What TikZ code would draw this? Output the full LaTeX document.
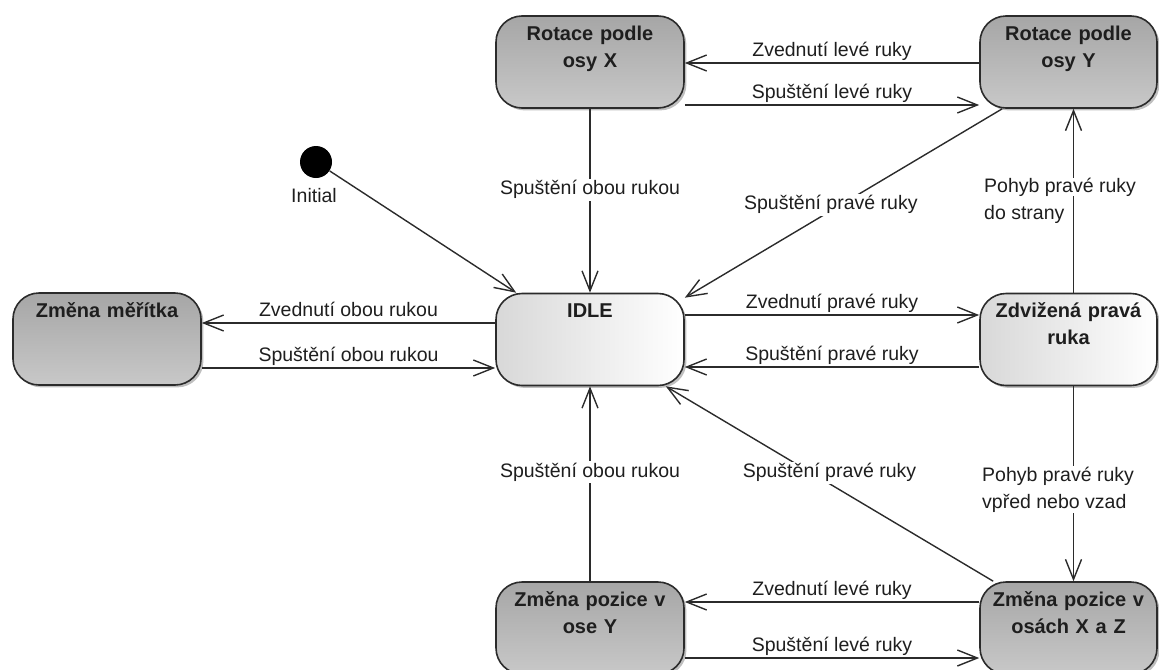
\documentclass[tikz,border=0pt]{standalone}
\usepackage{fontspec}
\setmainfont{Liberation Sans}
\usetikzlibrary{arrows.meta,shadows,positioning}
\definecolor{lc}{HTML}{2B2B2B}
\definecolor{dtop}{HTML}{A6A6A6}
\definecolor{dbot}{HTML}{C8C8C8}
\definecolor{lleft}{HTML}{D8D8D8}
\definecolor{tc}{HTML}{1E1E1E}
\newcommand{\wbox}[1]{{\setlength{\fboxsep}{0pt}\colorbox{white}{#1}}}
\tikzset{
  st/.style={draw=lc, line width=0.8pt, rounded corners=13pt, align=center,
    inner xsep=0pt, inner ysep=0pt, text height=12pt, text depth=34pt,
    font=\fontsize{10}{13.5}\selectfont\bfseries, text=tc,
    drop shadow={shadow xshift=1.2pt, shadow yshift=-1.2pt, opacity=0.25, fill=black}},
  wideS/.style={text width=94pt},
  narrowS/.style={text width=88.5pt},
  dark/.style={st, top color=dtop, bottom color=dbot},
  light/.style={st, left color=lleft, right color=white},
  arr/.style={draw=lc, line width=0.7pt, -{Straight Barb[length=10pt,width=8pt]}},
  lblbase/.style={font=\fontsize{9.75}{13.5}\selectfont, text=tc, inner sep=0.5pt},
  lbl/.style={lblbase, text height=7.4pt, text depth=2.4pt},
  lblw/.style={lbl, fill=white},
}
\begin{document}
\begin{tikzpicture}[x=0.5pt,y=-0.5pt]
\useasboundingbox (0,0) rectangle (1159,669);
% states
\node[dark, wideS]    (rx)    at (590,62)    {Rotace podle\\osy X};
\node[dark, narrowS]  (ry)    at (1068.5,62) {Rotace podle\\osy Y};
\node[dark, wideS]    (scale) at (107,339)   {Změna měřítka};
\node[light, wideS]   (idle)  at (590,339.5) {IDLE};
\node[light, narrowS] (zdv)   at (1068.5,339.5) {Zdvižená pravá\\ruka};
\node[dark, wideS]    (zpy)   at (590,628)   {Změna pozice v\\ose Y};
\node[dark, narrowS]  (zxz)   at (1068.5,628) {Změna pozice v\\osách X a Z};
% initial
\node[circle, fill=black, minimum size=16pt, inner sep=0pt] (init) at (316,162) {};
\node[lbl] (initl) at (314,197) {Initial};
% transitions
\draw[arr] ([yshift=-0.5pt]ry.west) -- node[lbl, above] {Zvednutí levé ruky} ([yshift=-0.5pt]ry.west -| rx.east);
\draw[arr] ([yshift=-21.5pt]rx.east) -- node[lbl, above] {Spuštění levé ruky} ([yshift=-21.5pt]rx.east -| ry.west);
\draw[arr] (rx) -- node[lblw, pos=0.44] {Spuštění obou rukou} (idle);
\draw[arr] ([xshift=11.5pt]ry.south west) -- node[lblw, pos=0.54, yshift=3pt] {Spuštění pravé ruky} ([yshift=-2.5pt]idle.north east);
\draw[arr] (init) -- ([xshift=10.5pt]idle.north west);
\draw[arr] ([yshift=8.25pt]idle.west) -- node[lbl, above] {Zvednutí obou rukou} ([yshift=8.25pt]idle.west -| scale.east);
\draw[arr] ([yshift=-14.5pt]scale.east) -- node[lbl, above] {Spuštění obou rukou} ([yshift=-14.5pt]scale.east -| idle.west);
\draw[arr] ([yshift=12.25pt]idle.east) -- node[lbl, above] {Zvednutí pravé ruky} ([yshift=12.25pt]idle.east -| zdv.west);
\draw[arr] ([yshift=-13.75pt]zdv.west) -- node[lbl, above] {Spuštění pravé ruky} ([yshift=-13.75pt]zdv.west -| idle.east);
\draw[arr] ([xshift=2.5pt]zdv.north) -- node[lblbase, align=left, anchor=west, xshift=-45.5pt] {\wbox{Pohyb pravé ruky}\\do strany} ([xshift=2.5pt]ry.south);
\draw[arr] ([xshift=2.5pt]zdv.south) -- node[lblbase, fill=white, align=left, anchor=west, pos=0.53, xshift=-46.5pt] {Pohyb pravé ruky\\vpřed nebo vzad} ([xshift=2.5pt]zxz.north);
\draw[arr] ([xshift=7pt]zxz.north west) -- node[lblw, pos=0.5, yshift=5.5pt] {Spuštění pravé ruky} ([xshift=-9.5pt]idle.south east);
\draw[arr] (zpy) -- node[lblw, pos=0.56] {Spuštění obou rukou} (idle);
\draw[arr] ([yshift=13pt]zxz.west) -- node[lbl, above] {Zvednutí levé ruky} ([yshift=13pt]zxz.west -| zpy.east);
\draw[arr] ([yshift=-15pt]zpy.east) -- node[lbl, above] {Spuštění levé ruky} ([yshift=-15pt]zpy.east -| zxz.west);
\end{tikzpicture}
\end{document}
